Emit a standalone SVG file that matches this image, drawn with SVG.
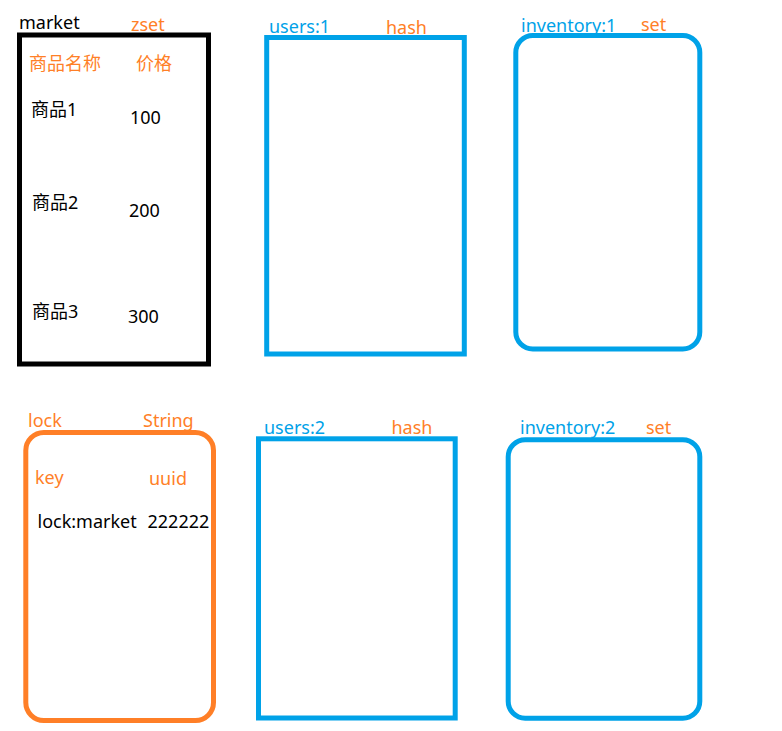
<svg xmlns="http://www.w3.org/2000/svg" width="782" height="731" viewBox="0 0 782 731">
<style>
text{font-family:"Noto Sans","Noto Sans CJK SC",sans-serif;font-size:18px;fill:#000}
.o{fill:#FF7F27}
.b{fill:#00A2E8}
.box{fill:none;stroke-width:5}
.blk{stroke:#000}
.blu{stroke:#00A2E8}
.org{stroke:#FF7F27}
</style>
<rect width="782" height="731" fill="#fff"/>
<g id="market">
<rect class="box blk" x="19.5" y="35" width="189" height="329"/>
<text x="19" y="29">market</text>
<text class="o" x="131" y="31">zset</text>
<text class="o" x="29" y="70">商品名称</text>
<text class="o" x="136" y="70">价格</text>
<text x="31" y="116">商品1</text>
<text x="130" y="124">100</text>
<text x="32" y="209">商品2</text>
<text x="129" y="217">200</text>
<text x="32" y="318">商品3</text>
<text x="128" y="323">300</text>
</g>
<g id="users1">
<rect class="box blu" x="266.7" y="37.5" width="197.6" height="316.5"/>
<text class="b" x="269" y="33">users:1</text>
<text class="o" x="386" y="34">hash</text>
</g>
<g id="inventory1">
<rect class="box blu" x="515.8" y="35.5" width="184" height="313.5" rx="17"/>
<text class="b" x="521" y="31.5">inventory:1</text>
<text class="o" x="641" y="31">set</text>
</g>
<g id="lock">
<rect class="box org" x="25.8" y="432.5" width="187.7" height="288" rx="18"/>
<text class="o" x="28" y="427">lock</text>
<text class="o" x="143" y="427">String</text>
<text class="o" x="35" y="484">key</text>
<text class="o" x="149" y="485">uuid</text>
<text x="37.5" y="528">lock:market</text>
<text x="147.5" y="528">222222</text>
</g>
<g id="users2">
<rect class="box blu" x="258.5" y="438.8" width="196.7" height="279.2"/>
<text class="b" x="264" y="434.3">users:2</text>
<text class="o" x="391.5" y="434.3">hash</text>
</g>
<g id="inventory2">
<rect class="box blu" x="508.2" y="439.7" width="191.6" height="278.5" rx="17"/>
<text class="b" x="520" y="434">inventory:2</text>
<text class="o" x="646" y="434">set</text>
</g>
<g id="connectors"></g>
</svg>
